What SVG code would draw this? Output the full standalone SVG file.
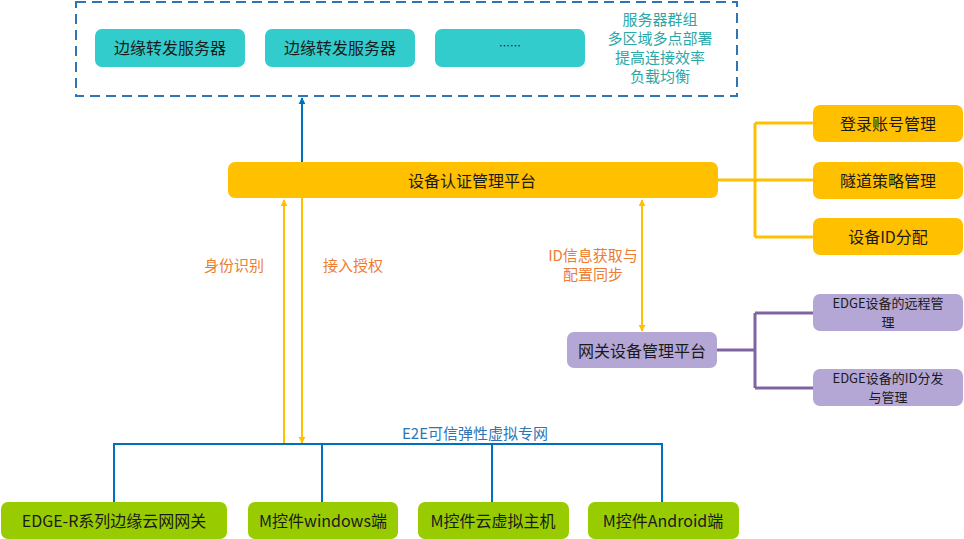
<svg xmlns="http://www.w3.org/2000/svg" width="964" height="539" viewBox="0 0 964 539">
<defs>
<style>
text{font-family:"Noto Sans CJK SC","Liberation Sans",sans-serif;font-size:16px;text-anchor:middle;dominant-baseline:central;fill:#1a1a1a}
.sm{font-size:13px}
.teal{fill:#33CCCC}
.org{fill:#FFC000}
.pur{fill:#B4A7D6}
.grn{fill:#99CC00}
.lbl{fill:#ED7D31;font-size:15px}
.blu{fill:#2E75B6;font-size:15px}
.tt{fill:#2AA7A7;font-size:15px}
.yl{stroke:#FFC000;stroke-width:2;fill:none}
.bl{stroke:#0070C0;stroke-width:2;fill:none}
.pl{stroke:#8064A2;stroke-width:3;fill:none}
.yt{stroke:#FFC000;stroke-width:3;fill:none}
</style>
<marker id="ya" viewBox="0 0 10 10" refX="9" refY="5" markerWidth="7" markerHeight="8" markerUnits="userSpaceOnUse" orient="auto-start-reverse"><path d="M0,0L10,5L0,10z" fill="#FFC000"/></marker>
<marker id="ba" viewBox="0 0 10 10" refX="9" refY="5" markerWidth="7" markerHeight="8" markerUnits="userSpaceOnUse" orient="auto"><path d="M0,0L10,5L0,10z" fill="#0070C0"/></marker>
</defs>
<g id="server-group">
<rect x="76" y="2" width="661" height="94" fill="none" stroke="#2E75B6" stroke-width="2" stroke-dasharray="10,6"/>
<text class="tt" x="660" y="18">服务器群组</text>
<text class="tt" x="660" y="37">多区域多点部署</text>
<text class="tt" x="660" y="56">提高连接效率</text>
<text class="tt" x="660" y="75">负载均衡</text>
</g>
<g id="edge-server-1"><rect class="teal" x="95" y="29" width="150" height="38" rx="7"/><text x="170" y="47">边缘转发服务器</text></g>
<g id="edge-server-2"><rect class="teal" x="265" y="29" width="150" height="38" rx="7"/><text x="340" y="47">边缘转发服务器</text></g>
<g id="edge-server-3"><rect class="teal" x="435" y="29" width="150" height="38" rx="7"/><text x="510" y="45" style="font-size:11px">……</text></g>
<g id="connectors">
<line class="bl" x1="302" y1="162" x2="302" y2="98" marker-end="url(#ba)"/>
<line class="yl" x1="284" y1="444" x2="284" y2="200" marker-end="url(#ya)"/>
<line class="yl" x1="302" y1="197" x2="302" y2="443" marker-end="url(#ya)"/>
<line class="yl" x1="642" y1="200" x2="642" y2="331" marker-start="url(#ya)" marker-end="url(#ya)"/>
<path class="yt" d="M717,180H755M755,123V237M755,123H813M755,180H813M755,237H813"/>
<path class="pl" d="M717,350H755M755,313V388M755,313H813M755,388H813"/>
<path class="bl" d="M114,444H662M114,443V502M322,443V502M492,443V502M662,443V502"/>
<text class="lbl" x="234" y="264">身份识别</text>
<text class="lbl" x="353" y="264">接入授权</text>
<text class="lbl" x="593" y="254">ID信息获取与</text>
<text class="lbl" x="593" y="273">配置同步</text>
<text class="blu" x="475" y="432">E2E可信弹性虚拟专网</text>
</g>
<g id="auth-platform"><rect class="org" x="228" y="162" width="490" height="36" rx="7"/><text x="472" y="180">设备认证管理平台</text></g>
<g id="login-mgmt"><rect class="org" x="813" y="105" width="150" height="37" rx="7"/><text x="888" y="123">登录账号管理</text></g>
<g id="tunnel-mgmt"><rect class="org" x="813" y="162" width="150" height="37" rx="7"/><text x="888" y="180">隧道策略管理</text></g>
<g id="id-assign"><rect class="org" x="813" y="218" width="150" height="37" rx="7"/><text x="888" y="236">设备ID分配</text></g>
<g id="gw-platform"><rect class="pur" x="567" y="332" width="150" height="36" rx="7"/><text x="642" y="350">网关设备管理平台</text></g>
<g id="remote-mgmt"><rect class="pur" x="813" y="294" width="150" height="37" rx="7"/><text class="sm" x="888" y="302.5">EDGE设备的远程管</text><text class="sm" x="888" y="321.5">理</text></g>
<g id="id-dist"><rect class="pur" x="813" y="369" width="150" height="37" rx="7"/><text class="sm" x="888" y="377.5">EDGE设备的ID分发</text><text class="sm" x="888" y="396.5">与管理</text></g>
<g id="edge-r"><rect class="grn" x="1" y="502" width="226" height="37" rx="7"/><text x="114" y="520">EDGE-R系列边缘云网网关</text></g>
<g id="m-windows"><rect class="grn" x="248" y="502" width="150" height="37" rx="7"/><text x="323" y="520">M控件windows端</text></g>
<g id="m-vhost"><rect class="grn" x="418" y="502" width="151" height="37" rx="7"/><text x="493" y="520">M控件云虚拟主机</text></g>
<g id="m-android"><rect class="grn" x="588" y="502" width="151" height="37" rx="7"/><text x="663" y="520">M控件Android端</text></g>
</svg>
